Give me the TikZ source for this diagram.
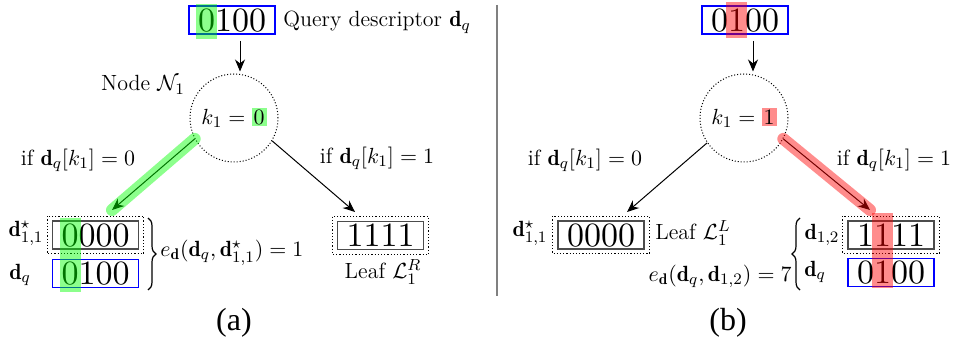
\documentclass[tikz,border=0pt]{standalone}
\usepackage{amsmath,amssymb}
\usepackage{fontspec}
\usetikzlibrary{arrows.meta,decorations.pathreplacing}
\newfontfamily\capfont{Liberation Serif}
\newfontfamily\bitfont{lmroman10-regular}[Extension=.otf]
\setlength{\fboxsep}{1pt}
\begin{document}
\begin{tikzpicture}[x=0.5pt,y=-0.5pt,
  every node/.style={font=\fontsize{11}{13}\selectfont, inner sep=0pt},
  bits/.style={font=\bitfont\fontsize{17}{20}\selectfont, minimum width=43pt, minimum height=14pt, inner sep=0pt, text height=11.2pt, text depth=0pt},
  qbox/.style={bits, draw=blue, line width=0.8pt},
  leafbox/.style={bits, draw=black!70, line width=0.8pt},
  knode/.style={circle, draw, dash pattern=on 0.5pt off 1pt, line width=0.5pt, minimum size=44pt},
  edgearrow/.style={-{Stealth[length=6pt,width=5pt]}, line width=0.5pt},
  outerdot/.style={dash pattern=on 0.6pt off 1pt, line width=0.6pt},
  hlg/.style={fill=green, fill opacity=0.45},
  hlr/.style={fill=red, fill opacity=0.45},
  hlgline/.style={draw=green, draw opacity=0.45, line width=6pt, line cap=round},
  hlrline/.style={draw=red, draw opacity=0.45, line width=6pt, line cap=round},
  bracestyle/.style={decorate, decoration={brace, amplitude=4pt}, line width=0.6pt},
  caption/.style={font=\capfont\fontsize{16}{19}\selectfont}
]
\useasboundingbox (0,0) rectangle (958,347);

% divider
\draw[black!50, line width=0.6pt] (497,5) -- (497,296);

% ---------- panel (a) ----------
\node[qbox] (qa) at (232,20) {0100};
\node[anchor=base west] (qal) at (283,27) {Query descriptor $\mathbf{d}_q$};
\node[knode] (na) at (234,118) {$k_1 = \colorbox{green!45}{$0$}$};
\node (Na) at (143,85) {Node $\mathcal{N}_1$};
\draw[edgearrow, shorten <=3pt, shorten >=1pt] ([xshift=4pt]qa.south) -- ([xshift=4pt]qa.south |- na.north);

\coordinate (ta1) at (112,210);
\coordinate (ta2) at (355,212);
\draw[edgearrow] (na.208) -- (ta1);
\draw[edgearrow] (na.329) -- (ta2);
\draw[hlgline] (na.208) -- (ta1);

\node (ifa0) at (78,160) {if $\mathbf{d}_q[k_1] = 0$};
\node (ifa1) at (377,158) {if $\mathbf{d}_q[k_1] = 1$};

\node[leafbox] (la) at (95.5,235) {0000};
\draw[outerdot] ([shift={(-2.25pt,2pt)}]la.north west) rectangle ([shift={(2.25pt,-2pt)}]la.south east);
\node[qbox] (da) at (95.5,273.5) {0100};
\node (laba1) at (26,233) {$\mathbf{d}^{\star}_{1,1}$};
\node (laba2) at (20,275) {$\mathbf{d}_q$};
\coordinate (bra1) at (148,218);
\coordinate (bra2) at (148,290);
\draw[bracestyle] (bra1) -- (bra2);
\node[anchor=west] (ea) at (160,253) {$e_{\mathbf{d}}(\mathbf{d}_q, \mathbf{d}^{\star}_{1,1}) = 1$};

\node[leafbox] (ra) at (380.5,235.5) {1111};
\draw[outerdot] ([shift={(-2.25pt,2pt)}]ra.north west) rectangle ([shift={(2.25pt,-2pt)}]ra.south east);
\node (leafR) at (383,272) {Leaf $\mathcal{L}^R_1$};

\fill[hlg] ([shift={(-18pt,8pt)}]qa.center) rectangle ([shift={(-7.5pt,-9.5pt)}]qa.center);
\fill[hlg] ([shift={(-18pt,8.5pt)}]la.center) rectangle ([shift={(-7.5pt,-9.25pt)}]da.center);

\node[caption] (capa) at (234,323) {(a)};

% ---------- panel (b) ----------
\node[qbox] (qb) at (745,20) {0100};
\node[knode] (nb) at (744,118) {$k_1 = \colorbox{red!45}{$1$}$};
\draw[edgearrow, shorten <=3pt, shorten >=1pt] ([xshift=4pt]qb.south) -- ([xshift=4pt]qb.south |- nb.north);

\coordinate (tb1) at (627,212);
\coordinate (tb2) at (870,210);
\draw[edgearrow] (nb.214) -- (tb1);
\draw[edgearrow] (nb.332) -- (tb2);
\draw[hlrline] (nb.332) -- (tb2);

\node (ifb0) at (585,160) {if $\mathbf{d}_q[k_1] = 0$};
\node (ifb1) at (894,160) {if $\mathbf{d}_q[k_1] = 1$};

\node[leafbox] (lb) at (601,235) {0000};
\draw[outerdot] ([shift={(-2.25pt,2pt)}]lb.north west) rectangle ([shift={(2.25pt,-2pt)}]lb.south east);
\node (labb1) at (530,233) {$\mathbf{d}^{\star}_{1,1}$};
\node[anchor=west] (leafL) at (655,233) {Leaf $\mathcal{L}^L_1$};

\node[leafbox] (rb) at (891,235) {1111};
\draw[outerdot] ([shift={(-2.25pt,2pt)}]rb.north west) rectangle ([shift={(2.25pt,-2pt)}]rb.south east);
\node (labb2) at (822,235) {$\mathbf{d}_{1,2}$};
\node[qbox] (dqb) at (891,272.5) {0100};
\node (labb3) at (815,272) {$\mathbf{d}_q$};
\coordinate (brb1) at (800,290);
\coordinate (brb2) at (800,218);
\draw[bracestyle] (brb1) -- (brb2);
\node[anchor=east] (eb) at (792,276) {$e_{\mathbf{d}}(\mathbf{d}_q, \mathbf{d}_{1,2}) = 7$};

\fill[hlr] ([shift={(-9.5pt,9pt)}]qb.center) rectangle ([shift={(1pt,-9pt)}]qb.center);
\fill[hlr] ([shift={(-9.5pt,11pt)}]rb.center) rectangle ([shift={(1pt,-8pt)}]dqb.center);

\node[caption] (capb) at (728,323) {(b)};
\end{tikzpicture}
\end{document}
